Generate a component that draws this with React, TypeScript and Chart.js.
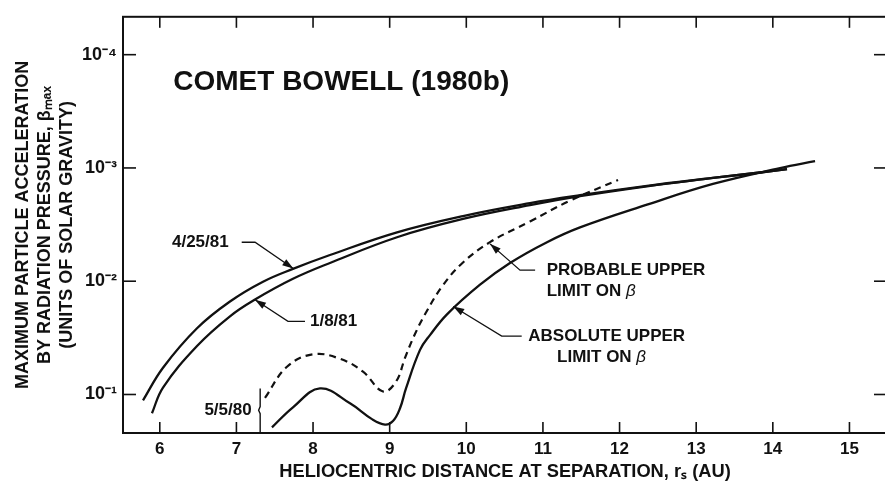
import React, { useEffect, useRef } from 'react';
import { Chart, registerables } from 'chart.js';

Chart.register(...registerables);

// ---------- axis ranges & ticks ----------
const X_MIN = 5.52;
const X_MAX = 15.49;
const Y_MIN = 4.63e-5;
const Y_MAX = 0.2188;

const xMajorTicks = [6, 7, 8, 9, 10, 11, 12, 13, 14, 15];
const xMinorTicks = [6.5, 7.5, 8.5, 9.5, 10.5, 11.5, 12.5, 13.5, 14.5];
const yMajorTicks = [1e-4, 1e-3, 1e-2, 1e-1];
const yMajorLabels = ['10⁻⁴', '10⁻³', '10⁻²', '10⁻¹'];
const yMinorTicks = [6e-5, 2e-4, 4e-4, 6e-4, 2e-3, 4e-3, 6e-3, 2e-2, 4e-2, 6e-2, 2e-1];

// ---------- series ----------
const apr81X = [5.781, 6.042, 6.486, 6.916, 7.347, 7.738, 8.221, 9.096, 9.957, 10.831, 11.484, 12.358, 13.219, 13.833, 14.185];
const apr81Y = [0.1126, 0.058, 0.026, 0.0151, 0.0101, 0.00778, 0.00587, 0.0037, 0.002657, 0.002046, 0.001742, 0.001439, 0.001226, 0.001097, 0.001023];

const jan81X = [5.898, 6.042, 6.486, 6.916, 7.243, 7.738, 8.221, 9.096, 9.957, 10.831, 11.484, 12.358, 13.219, 13.833, 14.185];
const jan81Y = [0.1463, 0.0868, 0.0373, 0.0204, 0.01451, 0.00952, 0.0069, 0.00409, 0.002822, 0.00213, 0.001777, 0.001454, 0.001226, 0.001097, 0.001023];

const probableX = [7.373, 7.66, 7.999, 8.352, 8.652, 8.913, 9.083, 9.2, 9.318, 9.461, 9.696, 9.957, 10.309, 10.831, 11.353, 11.98];
const probableY = [0.1071, 0.0569, 0.0442, 0.0484, 0.0629, 0.094, 0.0769, 0.0475, 0.0305, 0.0196, 0.01084, 0.00683, 0.00452, 0.002968, 0.001945, 0.001276];

const absoluteX = [7.464, 7.738, 8.09, 8.482, 8.769, 8.939, 9.043, 9.135, 9.213, 9.396, 9.526, 9.748, 10.179, 10.57, 11.053, 11.484, 12.358, 13.219, 14.094, 14.551];
const absoluteY = [0.1949, 0.1297, 0.0885, 0.1197, 0.165, 0.1842, 0.1717, 0.1323, 0.0885, 0.0404, 0.0299, 0.0196, 0.01073, 0.0069, 0.00452, 0.003346, 0.002108, 0.001383, 0.001003, 0.000871];

const may80MarkX = [7.31, 7.31, 7.29, 7.31, 7.31];
const may80MarkY = [0.0885, 0.128, 0.1377, 0.148, 0.2188];

// ---------- text ----------
const chartTitle = 'COMET BOWELL (1980b)';
const xTitle = 'HELIOCENTRIC DISTANCE AT SEPARATION, rₛ (AU)';
const yTitle = ['MAXIMUM PARTICLE ACCELERATION', 'BY RADIATION PRESSURE, βₘₐₓ', '(UNITS OF SOLAR GRAVITY)'];

const FAMILY = '"Liberation Sans", Arial, Helvetica, sans-serif';
const INK = '#111';

// callouts (anchors in data units)
const callouts = [
  { lines: [{ t: '4/25/81', x: 6.159, y: 4.53e-3 }], leader: [[7.069, 4.53e-3], [7.243, 4.53e-3], [7.742, 7.72e-3]] },
  { lines: [{ t: '1/8/81', x: 7.96, y: 0.0226 }], leader: [[7.895, 0.0226], [7.673, 0.0226], [7.243, 0.01459]] },
  {
    lines: [{ t: 'PROBABLE UPPER', x: 11.049, y: 7.98e-3 }, { t: 'LIMIT ON ', beta: true, x: 11.049, y: 0.01236 }],
    leader: [[10.898, 7.98e-3], [10.701, 7.98e-3], [10.309, 4.68e-3]],
  },
  {
    lines: [{ t: 'ABSOLUTE UPPER', x: 10.809, y: 0.0305 }, { t: 'LIMIT ON ', beta: true, x: 11.184, y: 0.0474 }],
    leader: [[10.723, 0.0305], [10.462, 0.0305], [9.83, 0.0167]],
  },
];
const may80Label = { t: '5/5/80', x: 7.199, y: 0.1377 };
const titlePos = { x: 6.176, y: 1.755e-4 };

const isIn = (arr: number[], v: number) => arr.some((m) => Math.abs(Math.log10(m) - Math.log10(v)) < 1e-6);

const overlayPlugin = {
  id: 'overlay',
  afterDatasetsDraw(chart: any) {
    const { ctx, chartArea: a, scales } = chart;
    const xs = scales.x;
    const ys = scales.y;
    const P = (xv: number, yv: number) => [xs.getPixelForValue(xv), ys.getPixelForValue(yv)];
    ctx.save();
    ctx.strokeStyle = INK;
    ctx.fillStyle = INK;
    // frame
    ctx.lineWidth = 2;
    ctx.strokeRect(a.left, a.top, a.right - a.left, a.bottom - a.top);
    // ticks
    ctx.lineWidth = 1.6;
    const seg = (x1: number, y1: number, x2: number, y2: number) => {
      ctx.beginPath();
      ctx.moveTo(x1, y1);
      ctx.lineTo(x2, y2);
      ctx.stroke();
    };
    for (const t of xs.ticks) {
      const px = xs.getPixelForValue(t.value);
      const major = xMajorTicks.includes(t.value);
      seg(px, a.bottom, px, a.bottom - (major ? 11 : 6));
      seg(px, a.top, px, a.top + (major ? 11 : 7));
    }
    for (const t of ys.ticks) {
      const py = ys.getPixelForValue(t.value);
      const major = isIn(yMajorTicks, t.value);
      seg(a.left, py, a.left + (major ? 13 : 7), py);
      seg(a.right, py, a.right - (major ? 13 : 7), py);
    }
    // title
    ctx.textBaseline = 'middle';
    ctx.textAlign = 'left';
    ctx.font = `bold 28px ${FAMILY}`;
    const [tx, ty] = P(titlePos.x, titlePos.y);
    ctx.fillText(chartTitle, tx, ty);
    // callouts
    const bold = `bold 17px ${FAMILY}`;
    for (const c of callouts) {
      for (const l of c.lines) {
        const [lx, ly] = P(l.x, l.y);
        ctx.font = bold;
        ctx.fillText(l.t, lx, ly);
        if ((l as any).beta) {
          const w = ctx.measureText(l.t).width;
          ctx.font = `italic 17px ${FAMILY}`;
          ctx.fillText('β', lx + w, ly);
        }
      }
      const pts = c.leader.map(([xv, yv]) => P(xv, yv));
      ctx.lineWidth = 1.3;
      ctx.beginPath();
      ctx.moveTo(pts[0][0], pts[0][1]);
      for (let i = 1; i < pts.length; i++) ctx.lineTo(pts[i][0], pts[i][1]);
      ctx.stroke();
      const [ex, ey] = pts[pts.length - 1];
      const [sx, sy] = pts[pts.length - 2];
      const ang = Math.atan2(ey - sy, ex - sx);
      const L = 11;
      const W = 3.6;
      ctx.beginPath();
      ctx.moveTo(ex, ey);
      ctx.lineTo(ex - L * Math.cos(ang) + W * Math.sin(ang), ey - L * Math.sin(ang) - W * Math.cos(ang));
      ctx.lineTo(ex - L * Math.cos(ang) - W * Math.sin(ang), ey - L * Math.sin(ang) + W * Math.cos(ang));
      ctx.closePath();
      ctx.fill();
    }
    ctx.font = bold;
    ctx.textAlign = 'right';
    const [mx, my] = P(may80Label.x, may80Label.y);
    ctx.fillText(may80Label.t, mx, my);
    ctx.restore();
  },
};

const pts = (xs: number[], ys: number[]) => xs.map((x, i) => ({ x, y: ys[i] }));

export default function App() {
  const ref = useRef<HTMLCanvasElement>(null);
  useEffect(() => {
    if (!ref.current) return;
    const lineBase = {
      borderColor: INK,
      borderWidth: 2.3,
      pointRadius: 0,
      fill: false,
      tension: 0.4,
      borderCapStyle: 'butt' as const,
    };
    const chart = new Chart(ref.current, {
      type: 'line',
      data: {
        datasets: [
          { ...lineBase, label: '4/25/81', data: pts(apr81X, apr81Y) },
          { ...lineBase, label: '1/8/81', data: pts(jan81X, jan81Y) },
          { ...lineBase, label: 'Probable upper limit on β', data: pts(probableX, probableY), borderDash: [7, 5], borderWidth: 2.2 },
          { ...lineBase, label: 'Absolute upper limit on β', data: pts(absoluteX, absoluteY) },
          { ...lineBase, label: '5/5/80', data: pts(may80MarkX, may80MarkY), borderWidth: 1.4, tension: 0 },
        ],
      },
      options: {
        responsive: true,
        maintainAspectRatio: false,
        animation: false,
        layout: { padding: { left: 0, top: 12, right: 5, bottom: 0 } },
        plugins: { legend: { display: false }, tooltip: { enabled: false }, title: { display: false } },
        scales: {
          x: {
            type: 'linear',
            min: X_MIN,
            max: X_MAX,
            afterBuildTicks: (s: any) => {
              s.ticks = [...xMajorTicks, ...xMinorTicks].sort((p, q) => p - q).map((v) => ({ value: v }));
            },
            afterFit: (s: any) => {
              s.height = 51;
            },
            grid: { display: false, drawTicks: false },
            border: { display: false },
            ticks: {
              autoSkip: false,
              maxRotation: 0,
              minRotation: 0,
              padding: 6,
              color: INK,
              font: { family: FAMILY, size: 17, weight: 'bold' },
              callback: (v: any) => (xMajorTicks.includes(Number(v)) ? String(v) : null),
            },
            title: {
              display: true,
              text: xTitle,
              color: INK,
              font: { family: FAMILY, size: 18.3, weight: 'bold' },
              padding: { top: 0, bottom: 1.5 },
            },
          },
          y: {
            type: 'logarithmic',
            reverse: true,
            min: Y_MIN,
            max: Y_MAX,
            afterBuildTicks: (s: any) => {
              s.ticks = [...yMajorTicks, ...yMinorTicks].sort((p, q) => p - q).map((v) => ({ value: v }));
            },
            afterFit: (s: any) => {
              s.width = 123;
            },
            grid: { display: false, drawTicks: false },
            border: { display: false },
            ticks: {
              autoSkip: false,
              padding: 6,
              color: INK,
              font: { family: FAMILY, size: 18, weight: 'bold' },
              callback: (v: any) => {
                const i = yMajorTicks.findIndex((m) => Math.abs(Math.log10(m) - Math.log10(Number(v))) < 1e-6);
                return i >= 0 ? yMajorLabels[i] : null;
              },
            },
            title: {
              display: true,
              text: yTitle,
              color: INK,
              font: { family: FAMILY, size: 18, weight: 'bold', lineHeight: '22px' },
              padding: { top: 12, bottom: 0 },
            },
          },
        },
      },
      plugins: [overlayPlugin],
    } as any);
    return () => chart.destroy();
  }, []);
  return (
    <div style={{ position: 'fixed', left: 0, top: 0, width: 885, height: 484, overflow: 'hidden', background: '#fff' }}>
      <div style={{ position: 'relative', width: 892, height: 484 }}>
        <canvas ref={ref} style={{ display: 'block' }} />
      </div>
    </div>
  );
}
